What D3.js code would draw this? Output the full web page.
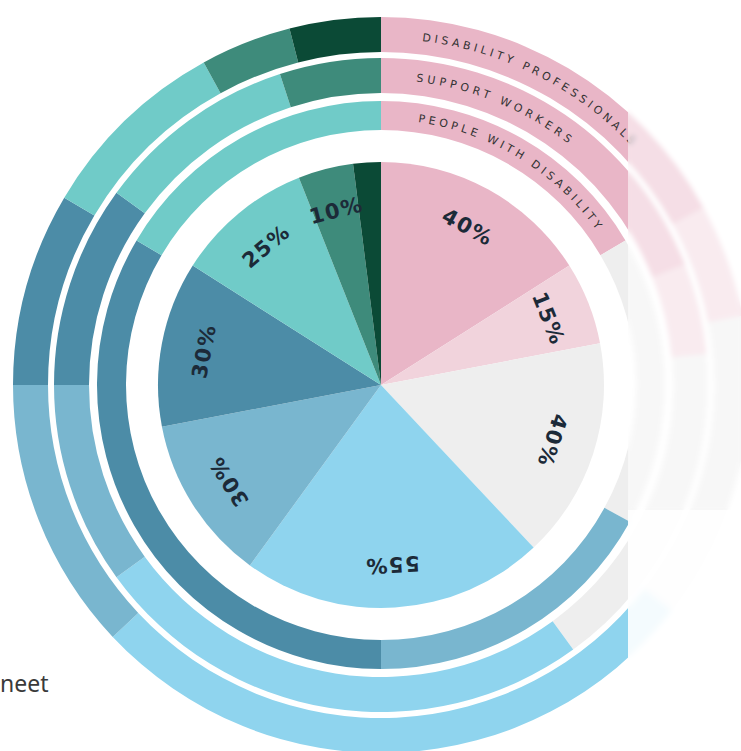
<!DOCTYPE html>
<html>
<head>
<meta charset="utf-8">
<script src="https://cdn.jsdelivr.net/npm/d3@7"></script>
<style>
  html, body { margin: 0; padding: 0; background: #ffffff; }
  #wrap { position: relative; width: 741px; height: 751px; overflow: hidden; }
  .haze { position: absolute; pointer-events: none; }
</style>
</head>
<body>
<div id="wrap"></div>
<script>
// Answer categories, clockwise from 12 o'clock
const categories = ["pink", "lightPink", "grey", "lightBlue", "mutedBlue", "darkTeal", "teal", "green", "darkGreen"];
const colors = ["#e9b6c7", "#f1d3dc", "#eeeeee", "#8fd4ee", "#79b6cf", "#4c8ca7", "#70cbc8", "#3e8b7b", "#0b4a36"];

// Centre pie: shares and their printed labels (the last sliver is unlabelled)
const pieValues = [40, 15, 40, 55, 30, 30, 25, 10, 5];
const pieLabels = ["40%", "15%", "40%", "55%", "30%", "30%", "25%", "10%", ""];

// Ring groups, innermost first, with each group's share per category (%)
const groups = ["PEOPLE WITH DISABILITY", "SUPPORT WORKERS", "DISABILITY PROFESSIONALS"];
const ringPeople = [16.5, 0, 16.5, 0, 17, 33.5, 16.5, 0, 0];
const ringSupport = [19, 4.5, 16.5, 25, 10, 10, 10, 5, 0];
const ringProfessionals = [17, 5, 13.5, 27.5, 12, 8.5, 8.5, 4, 4];
const ringValues = [ringPeople, ringSupport, ringProfessionals];

// Layout
const W = 741, H = 751;
const cx = 381, cy = 385;
const pieR = 223;
const labelR = 180;
const ringRadii = [[255, 284], [292, 327], [333, 368]];
// where each ring's title starts (degrees from 12 o'clock) and how long it runs (px)
const titleStart = [8.0, 6.6, 6.8];
const titleLength = [214, 166, 238];

const wrap = d3.select("#wrap");
const svg = wrap.append("svg")
  .attr("width", W)
  .attr("height", H)
  .style("display", "block");

const g = svg.append("g").attr("transform", `translate(${cx},${cy})`);

const color = d3.scaleOrdinal().domain(categories).range(colors);
const pie = d3.pie().sort(null).value(d => d.v);

// ---- centre pie ----
const pieData = pie(pieValues.map((v, i) => ({ v, cat: categories[i], label: pieLabels[i] })));
const pieArc = d3.arc().innerRadius(0).outerRadius(pieR);

g.append("g")
  .selectAll("path")
  .data(pieData)
  .join("path")
  .attr("d", pieArc)
  .attr("fill", d => color(d.data.cat));

g.append("g")
  .selectAll("text")
  .data(pieData.filter(d => d.data.label))
  .join("text")
  .attr("transform", d => {
    const mid = (d.startAngle + d.endAngle) / 2 * 180 / Math.PI;
    return `rotate(${mid}) translate(0,${-labelR})`;
  })
  .attr("text-anchor", "middle")
  .attr("dominant-baseline", "central")
  .style("font-family", "'DejaVu Sans', sans-serif")
  .style("font-weight", "700")
  .style("font-size", "21px")
  .style("letter-spacing", "1.5px")
  .style("fill", "#1c2a38")
  .text(d => d.data.label);

// ---- outer rings ----
ringValues.forEach((vals, k) => {
  const [r0, r1] = ringRadii[k];
  const arc = d3.arc().innerRadius(r0).outerRadius(r1);
  const data = pie(vals.map((v, i) => ({ v, cat: categories[i] }))).filter(d => d.data.v > 0);
  g.append("g")
    .selectAll("path")
    .data(data)
    .join("path")
    .attr("d", arc)
    .attr("fill", d => color(d.data.cat));

  // curved group title running along the ring
  const rb = (r0 + r1) / 2 - 4;
  const a0 = titleStart[k] * Math.PI / 180;
  const a1 = a0 + 1.6;
  const p = d3.path();
  p.arc(0, 0, rb, a0 - Math.PI / 2, a1 - Math.PI / 2, false);
  const id = "title-path-" + k;
  g.append("path").attr("id", id).attr("d", p.toString()).attr("fill", "none");
  g.append("text")
    .style("font-family", "'DejaVu Sans', sans-serif")
    .style("font-size", "11px")
    .style("fill", "#333333")
    .append("textPath")
    .attr("href", "#" + id)
    .attr("textLength", titleLength[k])
    .attr("lengthAdjust", "spacing")
    .text(groups[k]);
});

// partial caption at the left edge
svg.append("text")
  .attr("x", 0)
  .attr("y", 692)
  .style("font-family", "'Noto Sans', sans-serif")
  .style("font-size", "23px")
  .style("fill", "#3a3a3a")
  .text("neet");

// washed-out right-hand strip
wrap.append("div").attr("class", "haze")
  .style("left", "628px").style("top", "0px")
  .style("width", "113px").style("height", "510px")
  .style("background", "rgba(255,255,255,0.55)")
  .style("backdrop-filter", "blur(2.5px)");
wrap.append("div").attr("class", "haze")
  .style("left", "628px").style("top", "510px")
  .style("width", "113px").style("height", "241px")
  .style("background", "rgba(255,255,255,0.9)")
  .style("backdrop-filter", "blur(3px)");
</script>
</body>
</html>
